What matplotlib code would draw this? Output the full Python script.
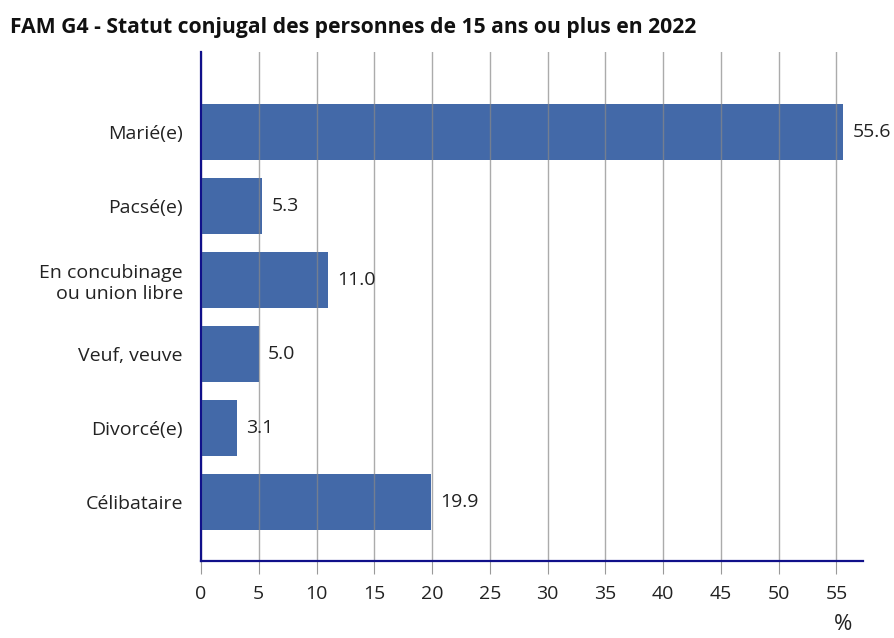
import matplotlib.pyplot as plt

plt.rcParams['font.family'] = ['Open Sans', 'DejaVu Sans']

categories = ["Marié(e)", "Pacsé(e)", "En concubinage\nou union libre",
              "Veuf, veuve", "Divorcé(e)", "Célibataire"]
values = [55.6, 5.3, 11.0, 5.0, 3.1, 19.9]
xticks = list(range(0, 60, 5))

fig = plt.figure(figsize=(8.94, 6.38), dpi=100)
ax = fig.add_axes([201/894, 1-561/638, (863-201)/894, (561-52)/638])

pos = [len(categories)-1-i for i in range(len(categories))]
ax.barh(pos, values, height=0.76, color="#4369a8", zorder=1)
for p, v in zip(pos, values):
    ax.text(v + 0.8, p, f"{v:.1f}", va="center", ha="left", fontsize=14, color="#222222")

ax.set_xlim(0, 57.3)
ax.set_ylim(-0.8, 6.08)
ax.set_yticks(pos)
ax.set_yticklabels(categories, fontsize=14, color="#222222", multialignment="right")
ax.set_xticks(xticks)
ax.set_xticklabels([str(t) for t in xticks], fontsize=14, color="#222222")
ax.tick_params(axis="y", length=0, pad=13)
ax.tick_params(axis="x", length=9, color="#999999", pad=8)

ax.grid(axis="x", color="#888888", linewidth=1, alpha=0.7, zorder=2)
ax.set_axisbelow(False)
for s in ["top", "right"]:
    ax.spines[s].set_visible(False)
for s in ["left", "bottom"]:
    ax.spines[s].set_color("#10108a")
    ax.spines[s].set_linewidth(1.6)
    ax.spines[s].set_zorder(3)

fig.text(10/894, 1-28/638, "FAM G4 - Statut conjugal des personnes de 15 ans ou plus en 2022",
         fontsize=15.2, fontweight="bold", va="center", ha="left", color="#111111")
fig.text(843/894, 1-625/638, "%", fontsize=16, ha="center", va="center", color="#222222")

fig.savefig("out.png", dpi=100)
